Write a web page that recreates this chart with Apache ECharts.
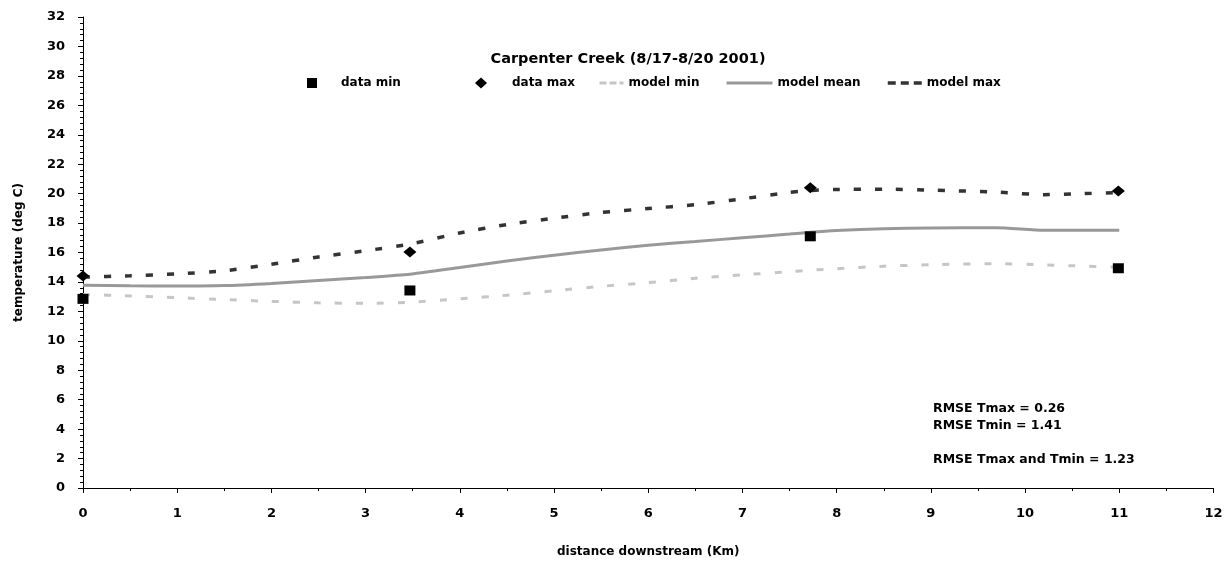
<!DOCTYPE html>
<html>
<head>
<meta charset="utf-8">
<script src="https://cdn.jsdelivr.net/npm/echarts@6/dist/echarts.min.js"></script>
<style>
html,body{margin:0;padding:0;background:#fff;}
#chart{width:1227px;height:563px;}
</style>
</head>
<body>
<div id="chart"></div>
<script>
// ---- data ----
const stationKm = [0, 3.47, 7.72, 10.99];
const dataMin = [12.85, 13.42, 17.1, 14.93];
const dataMax = [14.4, 16.03, 20.4, 20.18];

const modelKm = [0, 0.5, 1, 1.5, 2, 2.5, 3, 3.47, 4, 4.5, 5, 5.5, 6, 6.5, 7, 7.5, 7.72, 8, 8.5, 9, 9.7, 10.2, 10.5, 11.0];
const modelMin = [13.15, 13.05, 12.93, 12.8, 12.68, 12.58, 12.55, 12.62, 12.85, 13.1, 13.4, 13.7, 13.95, 14.25, 14.48, 14.7, 14.8, 14.9, 15.07, 15.17, 15.24, 15.16, 15.1, 15.0];
const modelMean = [13.78, 13.74, 13.72, 13.75, 13.9, 14.1, 14.3, 14.52, 14.98, 15.42, 15.82, 16.17, 16.5, 16.75, 17.0, 17.25, 17.38, 17.5, 17.62, 17.66, 17.69, 17.51, 17.51, 17.51];
const modelMax = [14.33, 14.42, 14.55, 14.75, 15.2, 15.7, 16.12, 16.57, 17.33, 17.9, 18.33, 18.72, 18.99, 19.25, 19.65, 20.08, 20.21, 20.28, 20.3, 20.24, 20.1, 19.93, 19.98, 20.07];

const titleText = 'Carpenter Creek (8/17-8/20 2001)';
const rmseText = 'RMSE Tmax = 0.26\nRMSE Tmin = 1.41\n\nRMSE Tmax and Tmin = 1.23';
const xName = 'distance downstream (Km)';
const yName = 'temperature (deg C)';

const zip = (xs, ys) => xs.map((x, i) => [x, ys[i]]);

const FONT = 'DejaVu Sans';
const txt = {fontFamily: FONT, fontWeight: 'bold', color: '#000', fontSize: 12};

function leg(name, left, w, h, extra) {
  return Object.assign({
    data: [name], left: left, top: 77, padding: 0,
    itemWidth: w, itemHeight: h,
    textStyle: Object.assign({}, txt), selectedMode: false
  }, extra || {});
}
const noSym = {color: 'transparent', borderColor: 'transparent', borderWidth: 0, opacity: 0};

const chart = echarts.init(document.getElementById('chart'));
chart.setOption({
  animation: false,
  backgroundColor: '#fff',
  title: [
    {text: titleText, left: 628, top: 52, padding: 0, textAlign: 'center',
     textStyle: Object.assign({}, txt, {fontSize: 14.5})},
    {text: rmseText, left: 933, top: 400, padding: 0,
     textStyle: Object.assign({}, txt, {fontSize: 12.5, lineHeight: 17})}
  ],
  legend: [
    leg('data min', 307, 10, 10, {icon: 'rect', textStyle: Object.assign({}, txt, {padding: [0, 0, 0, 19]})}),
    leg('data max', 475, 12, 11, {icon: 'diamond', textStyle: Object.assign({}, txt, {padding: [0, 0, 0, 20]})}),
    leg('model min', 598, 24, 10, {itemStyle: noSym, lineStyle: {type: [7, 3], width: 3, color: '#c6c6c6'}}),
    leg('model mean', 725, 46, 10, {itemStyle: noSym, lineStyle: {width: 3, color: '#999999'}}),
    leg('model max', 886, 34, 10, {itemStyle: noSym, lineStyle: {type: [8, 5], width: 3.5, color: '#333333'}})
  ],
  grid: {left: 83, right: 13.5, top: 17, bottom: 71},
  xAxis: {
    type: 'value', min: 0, max: 12, interval: 1,
    name: xName, nameLocation: 'middle', nameGap: 58,
    nameTextStyle: Object.assign({}, txt),
    axisLine: {show: true, lineStyle: {color: '#000', width: 1}},
    axisTick: {show: true, length: 5, lineStyle: {color: '#000'}},
    minorTick: {show: true, splitNumber: 2, length: 3, lineStyle: {color: '#000'}},
    splitLine: {show: false},
    axisLabel: Object.assign({}, txt, {fontSize: 13, margin: 19})
  },
  yAxis: {
    type: 'value', min: 0, max: 32, interval: 2,
    name: yName, nameLocation: 'middle', nameGap: 58, nameRotate: 90,
    nameTextStyle: Object.assign({}, txt),
    axisLine: {show: true, lineStyle: {color: '#000', width: 1}},
    axisTick: {show: true, length: 5, lineStyle: {color: '#000'}},
    minorTick: {show: true, splitNumber: 5, length: 3, lineStyle: {color: '#000'}},
    splitLine: {show: false},
    axisLabel: Object.assign({}, txt, {fontSize: 13, margin: 18})
  },
  series: [
    {name: 'model min', type: 'line', data: zip(modelKm, modelMin), symbol: 'none', smooth: 0.2,
     lineStyle: {color: '#c6c6c6', width: 3, type: [7, 14]}, itemStyle: {color: '#c6c6c6'}, z: 2},
    {name: 'model mean', type: 'line', data: zip(modelKm, modelMean), symbol: 'none', smooth: 0.2,
     lineStyle: {color: '#999999', width: 3, type: 'solid'}, itemStyle: {color: '#999999'}, z: 2},
    {name: 'model max', type: 'line', data: zip(modelKm, modelMax), symbol: 'none', smooth: 0.2,
     lineStyle: {color: '#333333', width: 3.5, type: [7, 14]}, itemStyle: {color: '#333333'}, z: 2},
    {name: 'data min', type: 'scatter', data: zip(stationKm, dataMin), symbol: 'rect', symbolSize: [11, 10],
     itemStyle: {color: '#000', opacity: 1}, z: 5},
    {name: 'data max', type: 'scatter', data: zip(stationKm, dataMax), symbol: 'diamond', symbolSize: [13, 11],
     itemStyle: {color: '#000', opacity: 1}, z: 5}
  ]
});
</script>
</body>
</html>
